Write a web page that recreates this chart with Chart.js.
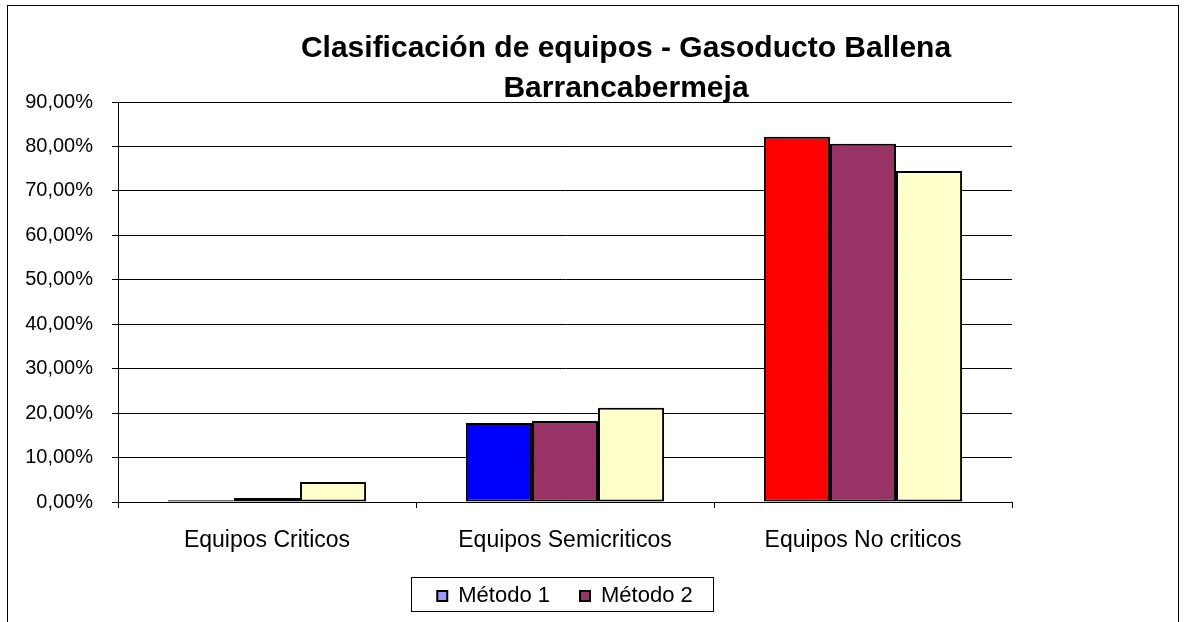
<!DOCTYPE html>
<html>
<head>
<meta charset="utf-8">
<script src="https://cdn.jsdelivr.net/npm/chart.js@4"></script>
<style>
  html, body { margin: 0; padding: 0; background: #fff; }
  #chart { display: block; }
</style>
</head>
<body>
<canvas id="chart" width="1189" height="622"></canvas>
<script>
// values (percent)
const categories = ['Equipos Criticos', 'Equipos Semicriticos', 'Equipos No criticos'];
const metodo1 = [0.4, 17.8, 82.2];
const metodo2 = [0.9, 18.2, 80.6];
const metodo3 = [4.5, 21.2, 74.5];
const yTicks = [0, 10, 20, 30, 40, 50, 60, 70, 80, 90];
const titleLines = ['Clasificación de equipos - Gasoducto Ballena', 'Barrancabermeja'];

const FONT = '"Liberation Sans", Arial, sans-serif';
Chart.defaults.color = '#000';
Chart.defaults.font.family = FONT;

// white page + outer frame of the chart object
const framePlugin = {
    id: 'frame',
    beforeDraw(chart) {
        const c = chart.ctx;
        c.save();
        c.fillStyle = '#fff';
        c.fillRect(0, 0, chart.width, chart.height);
        c.strokeStyle = '#000';
        c.lineWidth = 1;
        c.strokeRect(7.5, 5.5, 1171, 700);
        c.restore();
    }
};

// two line title, centred a bit right of the plot like the original
const titlePlugin = {
    id: 'twoLineTitle',
    afterDraw(chart) {
        const c = chart.ctx;
        c.save();
        c.font = 'bold 30px ' + FONT;
        c.fillStyle = '#000';
        c.textAlign = 'center';
        c.textBaseline = 'alphabetic';
        c.fillText(titleLines[0], 626, 57);
        c.fillText(titleLines[1], 626, 97);
        c.restore();
    }
};

// box round the legend
const legendBoxPlugin = {
    id: 'legendBox',
    afterDraw(chart) {
        const boxes = chart.legend && chart.legend.legendHitBoxes;
        if (!boxes || !boxes.length) return;
        const first = boxes[0], last = boxes[boxes.length - 1];
        const mid = first.top + first.height / 2;
        const c = chart.ctx;
        c.save();
        c.strokeStyle = '#000';
        c.lineWidth = 1;
        const l = Math.round(first.left - 26) + 0.5;
        const r = Math.round(last.left + last.width + 20) + 0.5;
        const t = Math.round(mid - 19) + 0.5;
        const b = Math.round(mid + 15) + 0.5;
        c.strokeRect(l, t, r - l, b - t);
        c.restore();
    }
};

const ctx = document.getElementById('chart').getContext('2d');
new Chart(ctx, {
    type: 'bar',
    data: {
        labels: categories,
        datasets: [{
            label: 'Método 1',
            data: metodo1,
            backgroundColor: ['#9999FF', '#0000FF', '#FF0000']
        }, {
            label: 'Método 2',
            data: metodo2,
            backgroundColor: '#993366'
        }, {
            label: 'Método 3',
            data: metodo3,
            backgroundColor: '#FFFFCC'
        }]
    },
    options: {
        responsive: false,
        animation: false,
        layout: {
            padding: { left: 0, right: 177, top: 102, bottom: 5 }
        },
        datasets: {
            bar: {
                borderColor: '#000',
                borderWidth: 2,
                borderSkipped: false,
                categoryPercentage: 0.665,
                barPercentage: 1.0
            }
        },
        scales: {
            x: {
                grid: {
                    drawOnChartArea: false,
                    drawTicks: true,
                    tickLength: 6,
                    color: '#000',
                    offset: true
                },
                border: { display: true, color: '#000', width: 1 },
                ticks: {
                    font: { size: 23 },
                    padding: 19,
                    maxRotation: 0
                },
                afterFit(scale) { scale.height = 53; }
            },
            y: {
                min: 0,
                max: 90,
                grid: {
                    color: '#000',
                    tickLength: 6,
                    drawTicks: true
                },
                border: { display: true, color: '#000', width: 1 },
                ticks: {
                    font: { size: 20 },
                    padding: 19,
                    callback: v => v.toFixed(2).replace('.', ',') + '%'
                },
                afterBuildTicks(scale) {
                    scale.ticks = yTicks.map(v => ({ value: v }));
                },
                afterFit(scale) { scale.width = 118; }
            }
        },
        plugins: {
            title: { display: false },
            tooltip: { enabled: false },
            legend: {
                position: 'bottom',
                fullSize: false,
                labels: {
                    font: { size: 22 },
                    boxWidth: 10,
                    boxHeight: 10,
                    padding: 30,
                    color: '#000',
                    filter: item => item.datasetIndex < 2
                }
            }
        }
    },
    plugins: [framePlugin, titlePlugin, legendBoxPlugin]
});
</script>
</body>
</html>
